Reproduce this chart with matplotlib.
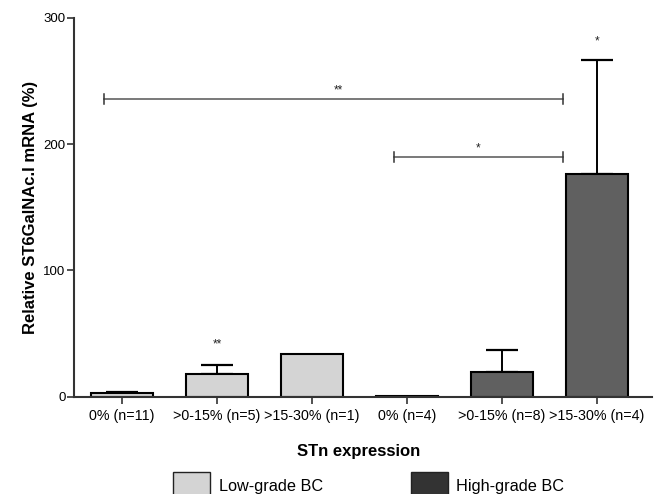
import matplotlib
matplotlib.use("Agg")
import matplotlib.pyplot as plt
from matplotlib.patches import Rectangle

plt.rcParams['font.family'] = ['Liberation Sans', 'DejaVu Sans']

categories = ["0% (n=11)", ">0-15% (n=5)", ">15-30% (n=1)",
              "0% (n=4)", ">0-15% (n=8)", ">15-30% (n=4)"]
means = [3.2, 17.8, 33.6, 0.5, 19.8, 176.5]
errors = [0.8, 7.6, 0.0, 0.0, 17.2, 90.0]
groups = ["Low-grade BC", "Low-grade BC", "Low-grade BC",
          "High-grade BC", "High-grade BC", "High-grade BC"]
group_colors = {"Low-grade BC": "#d4d4d4", "High-grade BC": "#606060"}
legend_colors = {"Low-grade BC": "#d4d4d4", "High-grade BC": "#333333"}
legend_labels = ["Low-grade BC", "High-grade BC"]

# significance annotations: (x_from, x_to, y, label)
brackets = [(-0.19, 4.64, 235.5, "**"), (2.86, 4.64, 190.0, "*")]
bar_marks = [(1, 37.0, "**"), (5, 277.0, "*")]

yticks = [0, 100, 200, 300]

fig = plt.figure(figsize=(6.58, 4.94), dpi=100)
ax = fig.add_axes([74/658, 1-396.7/494, (652-74)/658, (396.7-18)/494])

x = list(range(len(categories)))
colors = [group_colors[g] for g in groups]
ax.bar(x, means, width=0.66, color=colors, edgecolor="black", linewidth=1.5, zorder=2)
for xi, m, e in zip(x, means, errors):
    if e > 0:
        ax.errorbar(xi, m, yerr=[[0], [e]], fmt="none", ecolor="black",
                    elinewidth=1.4, capsize=11.5, capthick=1.6, zorder=1)

for x0, x1, yb, lab in brackets:
    ax.plot([x0, x1], [yb, yb], color="#555555", lw=1.1, zorder=3)
    for xe in (x0, x1):
        ax.plot([xe, xe], [yb - 4, yb + 4], color="#333333", lw=1.1, zorder=3)
    ax.text((x0 + x1) / 2 + (0.05 if lab == "**" else 0.0), yb + 2, lab,
            ha="center", va="bottom", fontsize=8.5, color="#222222")

for xi, yv, lab in bar_marks:
    ax.text(xi, yv, lab, ha="center", va="bottom", fontsize=8.5, color="#222222")

ax.set_xlim(-0.505, 5.58)
ax.set_ylim(0, 300)
ax.set_yticks(yticks)
ax.set_yticklabels([str(t) for t in yticks], fontsize=9.5)
ax.set_xticks(x)
ax.set_xticklabels(categories, fontsize=10.3)
ax.tick_params(axis="both", direction="out", length=5, width=1.2, color="#333333")
ax.tick_params(axis="x", pad=4)
ax.tick_params(axis="y", pad=1)
for s in ("top", "right"):
    ax.spines[s].set_visible(False)
for s in ("left", "bottom"):
    ax.spines[s].set_linewidth(1.5)
    ax.spines[s].set_color("#333333")

ax.set_ylabel("Relative ST6GalNAc.I mRNA (%)", fontsize=12, fontweight="bold", labelpad=4)
fig.text(359/658, 1-451/494, "STn expression", ha="center", va="center",
         fontsize=12, fontweight="bold")

# legend
legend_box_x = [173, 411]
legend_text_x = [219, 456]
for lab, bx, tx in zip(legend_labels, legend_box_x, legend_text_x):
    fig.patches.append(Rectangle((bx/658, 0 - 0.02), 37/658, (494-472)/494 + 0.02,
                                 transform=fig.transFigure, facecolor=legend_colors[lab],
                                 edgecolor="#222222", linewidth=1.0))
    fig.text(tx/658, 1-486/494, lab, ha="left", va="center", fontsize=11.7)

fig.savefig("out.png", dpi=100)
